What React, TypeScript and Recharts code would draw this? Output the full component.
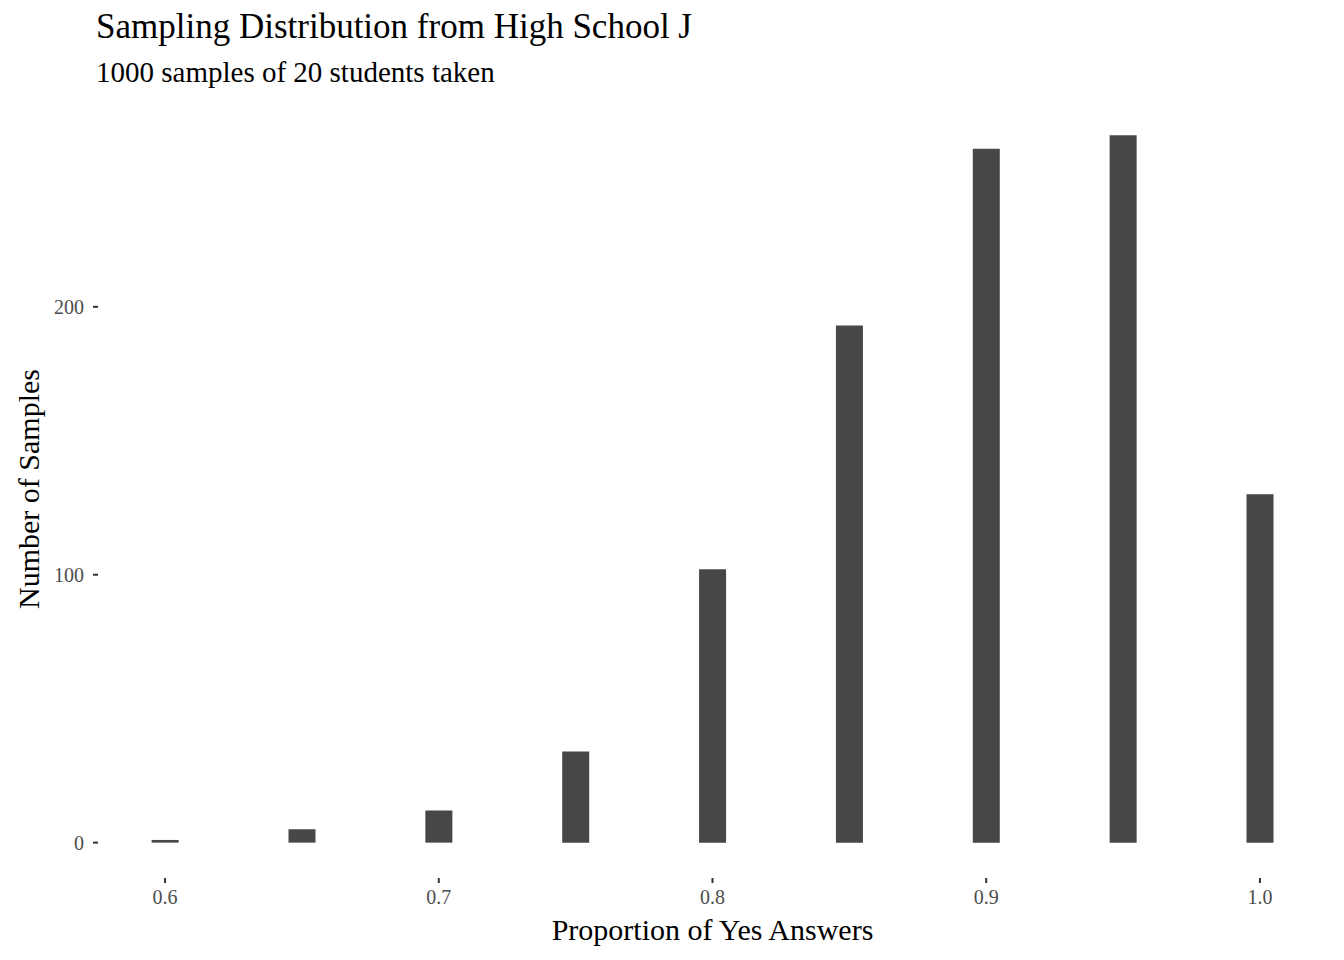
import React from "react";
import { BarChart, Bar, XAxis, YAxis } from "recharts";

const proportions = [0.6, 0.65, 0.7, 0.75, 0.8, 0.85, 0.9, 0.95, 1.0];
const counts = [1, 5, 12, 34, 102, 193, 259, 264, 130];
const xTicks = [0.6, 0.7, 0.8, 0.9, 1.0];
const yTicks = [0, 100, 200];

const data = proportions.map((p, i) => ({ x: p, n: counts[i] }));
const font = '"Liberation Serif", "Times New Roman", serif';

export default function App() {
  return (
    <div style={{ position: "absolute", left: 0, top: 0, width: 1344, height: 960, background: "#fff", fontFamily: font }}>
      <div style={{ position: "absolute", left: 96, top: 7, fontSize: 35, lineHeight: "40px", color: "#000", whiteSpace: "nowrap" }}>
        Sampling Distribution from High School J
      </div>
      <div style={{ position: "absolute", left: 96, top: 55, fontSize: 29, lineHeight: "34px", color: "#000", whiteSpace: "nowrap" }}>
        1000 samples of 20 students taken
      </div>
      <BarChart width={1344} height={960} data={data} margin={{ top: 100, right: 17, bottom: 0, left: 0 }}>
        <XAxis
          dataKey="x"
          type="number"
          domain={[0.5755, 1.0245]}
          allowDataOverflow
          ticks={xTicks}
          tickFormatter={(v: number) => v.toFixed(1)}
          axisLine={false}
          tickLine={{ stroke: "#333", strokeWidth: 2 }}
          tickSize={5}
          tickMargin={7}
          height={82}
          tick={{ fill: "#4d4d4d", fontSize: 20, fontFamily: font }}
          label={{ value: "Proportion of Yes Answers", position: "insideBottom", offset: 20, fill: "#000", fontSize: 30, fontFamily: font }}
        />
        <YAxis
          type="number"
          domain={[-13.2, 277.2]}
          allowDataOverflow
          ticks={yTicks}
          axisLine={false}
          tickLine={{ stroke: "#333", strokeWidth: 2 }}
          tickSize={5}
          tickMargin={9}
          width={98}
          tick={{ fill: "#4d4d4d", fontSize: 20, fontFamily: font }}
          label={{ value: "Number of Samples", angle: -90, position: "insideLeft", offset: 28, fill: "#000", fontSize: 30, fontFamily: font, style: { textAnchor: "middle" } }}
        />
        <Bar dataKey="n" fill="#474747" barSize={27} isAnimationActive={false} />
      </BarChart>
    </div>
  );
}
